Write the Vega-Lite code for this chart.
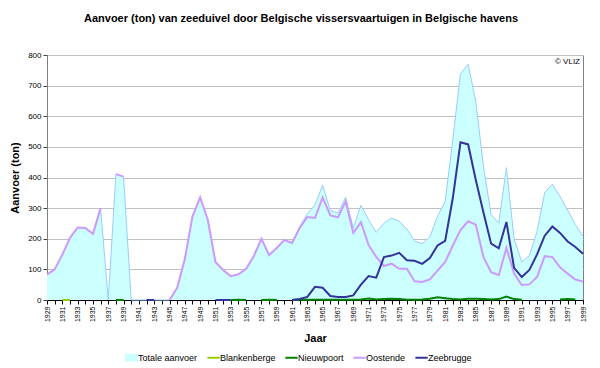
{
  "$schema": "https://vega.github.io/schema/vega-lite/v6.json",
  "autosize": {"type": "none"},
  "width": 536,
  "height": 245,
  "padding": {"left": 47, "top": 55, "right": 17, "bottom": 68},
  "background": "white",
  "title": {
    "text": "Aanvoer (ton) van zeeduivel door Belgische vissersvaartuigen in Belgische havens",
    "font": "Liberation Sans",
    "fontSize": 11,
    "fontWeight": "bold",
    "color": "#000000",
    "anchor": "middle",
    "frame": "group",
    "dx": -14,
    "baseline": "alphabetic",
    "offset": 18
  },
  "config": {
    "view": {"stroke": "#808080", "strokeWidth": 1, "fill": "white"},
    "axis": {"labelFont": "Liberation Sans", "titleFont": "Liberation Sans", "labelColor": "#000000", "titleColor": "#000000"},
    "axisY": {"tickCount": 9}
  },
  "data": {
    "values": [
      {"Jaar": 1929, "Totale aanvoer": 83, "Blankenberge": null, "Nieuwpoort": null, "Oostende": 83, "Zeebrugge": null},
      {"Jaar": 1930, "Totale aanvoer": 100, "Blankenberge": null, "Nieuwpoort": null, "Oostende": 100, "Zeebrugge": null},
      {"Jaar": 1931, "Totale aanvoer": 148, "Blankenberge": 0, "Nieuwpoort": null, "Oostende": 148, "Zeebrugge": null},
      {"Jaar": 1932, "Totale aanvoer": 203, "Blankenberge": 0, "Nieuwpoort": null, "Oostende": 203, "Zeebrugge": null},
      {"Jaar": 1933, "Totale aanvoer": 237, "Blankenberge": null, "Nieuwpoort": null, "Oostende": 237, "Zeebrugge": null},
      {"Jaar": 1934, "Totale aanvoer": 235, "Blankenberge": null, "Nieuwpoort": null, "Oostende": 235, "Zeebrugge": null},
      {"Jaar": 1935, "Totale aanvoer": 216, "Blankenberge": null, "Nieuwpoort": null, "Oostende": 216, "Zeebrugge": null},
      {"Jaar": 1936, "Totale aanvoer": 300, "Blankenberge": null, "Nieuwpoort": null, "Oostende": 300, "Zeebrugge": null},
      {"Jaar": 1937, "Totale aanvoer": 0, "Blankenberge": null, "Nieuwpoort": null, "Oostende": null, "Zeebrugge": null},
      {"Jaar": 1938, "Totale aanvoer": 411, "Blankenberge": null, "Nieuwpoort": 0, "Oostende": 411, "Zeebrugge": null},
      {"Jaar": 1939, "Totale aanvoer": 403, "Blankenberge": null, "Nieuwpoort": 0, "Oostende": 403, "Zeebrugge": null},
      {"Jaar": 1940, "Totale aanvoer": 0, "Blankenberge": null, "Nieuwpoort": null, "Oostende": null, "Zeebrugge": null},
      {"Jaar": 1941, "Totale aanvoer": 0, "Blankenberge": null, "Nieuwpoort": null, "Oostende": null, "Zeebrugge": null},
      {"Jaar": 1942, "Totale aanvoer": 0, "Blankenberge": null, "Nieuwpoort": null, "Oostende": null, "Zeebrugge": 0},
      {"Jaar": 1943, "Totale aanvoer": 0, "Blankenberge": null, "Nieuwpoort": null, "Oostende": null, "Zeebrugge": 0},
      {"Jaar": 1944, "Totale aanvoer": 0, "Blankenberge": null, "Nieuwpoort": null, "Oostende": null, "Zeebrugge": null},
      {"Jaar": 1945, "Totale aanvoer": 0, "Blankenberge": null, "Nieuwpoort": null, "Oostende": 0, "Zeebrugge": null},
      {"Jaar": 1946, "Totale aanvoer": 40, "Blankenberge": null, "Nieuwpoort": null, "Oostende": 40, "Zeebrugge": null},
      {"Jaar": 1947, "Totale aanvoer": 134, "Blankenberge": null, "Nieuwpoort": null, "Oostende": 134, "Zeebrugge": null},
      {"Jaar": 1948, "Totale aanvoer": 273, "Blankenberge": null, "Nieuwpoort": null, "Oostende": 273, "Zeebrugge": null},
      {"Jaar": 1949, "Totale aanvoer": 335, "Blankenberge": null, "Nieuwpoort": null, "Oostende": 335, "Zeebrugge": null},
      {"Jaar": 1950, "Totale aanvoer": 262, "Blankenberge": null, "Nieuwpoort": null, "Oostende": 262, "Zeebrugge": null},
      {"Jaar": 1951, "Totale aanvoer": 124, "Blankenberge": null, "Nieuwpoort": null, "Oostende": 124, "Zeebrugge": 0},
      {"Jaar": 1952, "Totale aanvoer": 98, "Blankenberge": null, "Nieuwpoort": null, "Oostende": 98, "Zeebrugge": 0},
      {"Jaar": 1953, "Totale aanvoer": 78, "Blankenberge": null, "Nieuwpoort": 0, "Oostende": 78, "Zeebrugge": 0},
      {"Jaar": 1954, "Totale aanvoer": 85, "Blankenberge": null, "Nieuwpoort": 1, "Oostende": 84, "Zeebrugge": null},
      {"Jaar": 1955, "Totale aanvoer": 102, "Blankenberge": null, "Nieuwpoort": 0, "Oostende": 102, "Zeebrugge": null},
      {"Jaar": 1956, "Totale aanvoer": 143, "Blankenberge": null, "Nieuwpoort": null, "Oostende": 143, "Zeebrugge": null},
      {"Jaar": 1957, "Totale aanvoer": 200, "Blankenberge": null, "Nieuwpoort": 0, "Oostende": 200, "Zeebrugge": null},
      {"Jaar": 1958, "Totale aanvoer": 148, "Blankenberge": null, "Nieuwpoort": 1, "Oostende": 147, "Zeebrugge": null},
      {"Jaar": 1959, "Totale aanvoer": 170, "Blankenberge": null, "Nieuwpoort": 0, "Oostende": 170, "Zeebrugge": null},
      {"Jaar": 1960, "Totale aanvoer": 196, "Blankenberge": null, "Nieuwpoort": null, "Oostende": 196, "Zeebrugge": null},
      {"Jaar": 1961, "Totale aanvoer": 186, "Blankenberge": null, "Nieuwpoort": 0, "Oostende": 186, "Zeebrugge": 0},
      {"Jaar": 1962, "Totale aanvoer": 240, "Blankenberge": null, "Nieuwpoort": 1, "Oostende": 235, "Zeebrugge": 3},
      {"Jaar": 1963, "Totale aanvoer": 281, "Blankenberge": null, "Nieuwpoort": 1, "Oostende": 271, "Zeebrugge": 10},
      {"Jaar": 1964, "Totale aanvoer": 311, "Blankenberge": null, "Nieuwpoort": 1, "Oostende": 268, "Zeebrugge": 43},
      {"Jaar": 1965, "Totale aanvoer": 375, "Blankenberge": null, "Nieuwpoort": 1, "Oostende": 335, "Zeebrugge": 40},
      {"Jaar": 1966, "Totale aanvoer": 292, "Blankenberge": null, "Nieuwpoort": 1, "Oostende": 276, "Zeebrugge": 13},
      {"Jaar": 1967, "Totale aanvoer": 284, "Blankenberge": null, "Nieuwpoort": 1, "Oostende": 270, "Zeebrugge": 10},
      {"Jaar": 1968, "Totale aanvoer": 335, "Blankenberge": null, "Nieuwpoort": 1, "Oostende": 322, "Zeebrugge": 10},
      {"Jaar": 1969, "Totale aanvoer": 235, "Blankenberge": null, "Nieuwpoort": 1, "Oostende": 219, "Zeebrugge": 15},
      {"Jaar": 1970, "Totale aanvoer": 309, "Blankenberge": null, "Nieuwpoort": 2, "Oostende": 254, "Zeebrugge": 50},
      {"Jaar": 1971, "Totale aanvoer": 262, "Blankenberge": null, "Nieuwpoort": 5, "Oostende": 179, "Zeebrugge": 78},
      {"Jaar": 1972, "Totale aanvoer": 221, "Blankenberge": null, "Nieuwpoort": 2, "Oostende": 141, "Zeebrugge": 73},
      {"Jaar": 1973, "Totale aanvoer": 251, "Blankenberge": null, "Nieuwpoort": 3, "Oostende": 111, "Zeebrugge": 140},
      {"Jaar": 1974, "Totale aanvoer": 268, "Blankenberge": null, "Nieuwpoort": 4, "Oostende": 119, "Zeebrugge": 145},
      {"Jaar": 1975, "Totale aanvoer": 257, "Blankenberge": null, "Nieuwpoort": 3, "Oostende": 102, "Zeebrugge": 154},
      {"Jaar": 1976, "Totale aanvoer": 232, "Blankenberge": null, "Nieuwpoort": 1, "Oostende": 102, "Zeebrugge": 130},
      {"Jaar": 1977, "Totale aanvoer": 192, "Blankenberge": null, "Nieuwpoort": 1, "Oostende": 61, "Zeebrugge": 128},
      {"Jaar": 1978, "Totale aanvoer": 184, "Blankenberge": null, "Nieuwpoort": 2, "Oostende": 59, "Zeebrugge": 118},
      {"Jaar": 1979, "Totale aanvoer": 206, "Blankenberge": null, "Nieuwpoort": 4, "Oostende": 67, "Zeebrugge": 137},
      {"Jaar": 1980, "Totale aanvoer": 273, "Blankenberge": null, "Nieuwpoort": 9, "Oostende": 96, "Zeebrugge": 178},
      {"Jaar": 1981, "Totale aanvoer": 322, "Blankenberge": null, "Nieuwpoort": 6, "Oostende": 124, "Zeebrugge": 193},
      {"Jaar": 1982, "Totale aanvoer": 525, "Blankenberge": null, "Nieuwpoort": 3, "Oostende": 178, "Zeebrugge": 333},
      {"Jaar": 1983, "Totale aanvoer": 739, "Blankenberge": null, "Nieuwpoort": 2, "Oostende": 228, "Zeebrugge": 515},
      {"Jaar": 1984, "Totale aanvoer": 770, "Blankenberge": null, "Nieuwpoort": 4, "Oostende": 257, "Zeebrugge": 508},
      {"Jaar": 1985, "Totale aanvoer": 647, "Blankenberge": null, "Nieuwpoort": 4, "Oostende": 246, "Zeebrugge": 392},
      {"Jaar": 1986, "Totale aanvoer": 436, "Blankenberge": null, "Nieuwpoort": 3, "Oostende": 140, "Zeebrugge": 286},
      {"Jaar": 1987, "Totale aanvoer": 279, "Blankenberge": null, "Nieuwpoort": 2, "Oostende": 91, "Zeebrugge": 184},
      {"Jaar": 1988, "Totale aanvoer": 251, "Blankenberge": null, "Nieuwpoort": 3, "Oostende": 81, "Zeebrugge": 169},
      {"Jaar": 1989, "Totale aanvoer": 432, "Blankenberge": null, "Nieuwpoort": 11, "Oostende": 170, "Zeebrugge": 255},
      {"Jaar": 1990, "Totale aanvoer": 199, "Blankenberge": null, "Nieuwpoort": 3, "Oostende": 86, "Zeebrugge": 105},
      {"Jaar": 1991, "Totale aanvoer": 124, "Blankenberge": null, "Nieuwpoort": 1, "Oostende": 49, "Zeebrugge": 75},
      {"Jaar": 1992, "Totale aanvoer": 145, "Blankenberge": null, "Nieuwpoort": null, "Oostende": 51, "Zeebrugge": 98},
      {"Jaar": 1993, "Totale aanvoer": 224, "Blankenberge": null, "Nieuwpoort": null, "Oostende": 75, "Zeebrugge": 149},
      {"Jaar": 1994, "Totale aanvoer": 351, "Blankenberge": null, "Nieuwpoort": null, "Oostende": 143, "Zeebrugge": 210},
      {"Jaar": 1995, "Totale aanvoer": 378, "Blankenberge": null, "Nieuwpoort": null, "Oostende": 140, "Zeebrugge": 240},
      {"Jaar": 1996, "Totale aanvoer": 338, "Blankenberge": null, "Nieuwpoort": 2, "Oostende": 107, "Zeebrugge": 219},
      {"Jaar": 1997, "Totale aanvoer": 293, "Blankenberge": null, "Nieuwpoort": 3, "Oostende": 86, "Zeebrugge": 191},
      {"Jaar": 1998, "Totale aanvoer": 246, "Blankenberge": null, "Nieuwpoort": 2, "Oostende": 67, "Zeebrugge": 173},
      {"Jaar": 1999, "Totale aanvoer": 208, "Blankenberge": null, "Nieuwpoort": null, "Oostende": 60, "Zeebrugge": 151}
    ]
  },
  "encoding": {
    "x": {
      "field": "Jaar",
      "type": "quantitative",
      "title": "Jaar",
      "scale": {"domain": [1929, 1999], "nice": false, "zero": false},
      "axis": {
        "values": [1929,1930,1931,1932,1933,1934,1935,1936,1937,1938,1939,1940,1941,1942,1943,1944,1945,1946,1947,1948,1949,1950,1951,1952,1953,1954,1955,1956,1957,1958,1959,1960,1961,1962,1963,1964,1965,1966,1967,1968,1969,1970,1971,1972,1973,1974,1975,1976,1977,1978,1979,1980,1981,1982,1983,1984,1985,1986,1987,1988,1989,1990,1991,1992,1993,1994,1995,1996,1997,1998,1999],
        "labelExpr": "datum.value % 2 == 1 ? '' + datum.value : ''",
        "labelAngle": -90,
        "labelFontSize": 7,
        "labelOverlap": false,
        "labelPadding": 2,
        "tickSize": 4,
        "tickColor": "#000000",
        "domainColor": "#000000",
        "grid": false,
        "titleFontSize": 11,
        "titleFontWeight": "bold",
        "titlePadding": 11
      }
    }
  },
  "layer": [
    {
      "mark": {"type": "area", "invalid": "break-paths-filter-domains", "fill": "#ccffff"},
      "encoding": {
        "y": {
          "field": "Totale aanvoer",
          "type": "quantitative",
          "title": "Aanvoer (ton)",
          "scale": {"domain": [0, 800], "nice": false},
          "axis": {"values": [0, 100, 200, 300, 400, 500, 600, 700, 800], "labelFontSize": 8, "labelPadding": 2, "tickSize": 4, "tickColor": "#404040", "domainColor": "#808080", "grid": true, "gridColor": "#c0c0c0", "gridWidth": 1, "titleFontSize": 11, "titleFontWeight": "bold", "titlePadding": 7}
        },
        "color": {
          "datum": "Totale aanvoer",
          "scale": {
            "domain": ["Totale aanvoer", "Blankenberge", "Nieuwpoort", "Oostende", "Zeebrugge"],
            "range": ["#ccffff", "#99cc00", "#008000", "#cc99ff", "#333399"]
          },
          "legend": {
            "title": null,
            "orient": "none",
            "direction": "horizontal",
            "legendX": 80,
            "legendY": 298,
            "columnPadding": 5,
            "labelFont": "Liberation Sans",
            "labelFontSize": 9,
            "labelColor": "#000000",
            "labelOffset": 2,
            "symbolSize": 150,
            "symbolStrokeWidth": 2,
            "encode": {
              "symbols": {
                "update": {
                  "shape": {"signal": "datum.value === 'Totale aanvoer' ? 'M-1,-0.55H1V0.55H-1Z' : 'stroke'"},
                  "fill": {"signal": "datum.value === 'Totale aanvoer' ? '#ccffff' : 'transparent'"},
                  "stroke": {"signal": "datum.value === 'Totale aanvoer' ? '#99ccff' : scale('color', datum.value)"},
                  "strokeWidth": {"signal": "datum.value === 'Totale aanvoer' ? 1 : 2"}
                }
              }
            }
          }
        }
      }
    },
    {
      "mark": {"type": "line", "invalid": "break-paths-filter-domains", "stroke": "#99ccff", "strokeWidth": 1},
      "encoding": {
        "y": {"field": "Totale aanvoer", "type": "quantitative", "title": "Aanvoer (ton)",
          "axis": {"values": [0, 100, 200, 300, 400, 500, 600, 700, 800], "labelFontSize": 8, "labelPadding": 2, "tickSize": 4, "tickColor": "#404040", "domainColor": "#808080", "grid": true, "gridColor": "#c0c0c0", "gridWidth": 1, "titleFontSize": 11, "titleFontWeight": "bold", "titlePadding": 7}}
      }
    },
    {
      "mark": {"type": "line", "invalid": "break-paths-filter-domains", "strokeWidth": 2},
      "encoding": {
        "y": {"field": "Blankenberge", "type": "quantitative", "title": "Aanvoer (ton)",
          "axis": {"values": [0, 100, 200, 300, 400, 500, 600, 700, 800], "labelFontSize": 8, "labelPadding": 2, "tickSize": 4, "tickColor": "#404040", "domainColor": "#808080", "grid": true, "gridColor": "#c0c0c0", "gridWidth": 1, "titleFontSize": 11, "titleFontWeight": "bold", "titlePadding": 7}},
        "color": {"datum": "Blankenberge"}
      }
    },
    {
      "mark": {"type": "line", "invalid": "break-paths-filter-domains", "strokeWidth": 2},
      "encoding": {
        "y": {"field": "Nieuwpoort", "type": "quantitative", "title": "Aanvoer (ton)",
          "axis": {"values": [0, 100, 200, 300, 400, 500, 600, 700, 800], "labelFontSize": 8, "labelPadding": 2, "tickSize": 4, "tickColor": "#404040", "domainColor": "#808080", "grid": true, "gridColor": "#c0c0c0", "gridWidth": 1, "titleFontSize": 11, "titleFontWeight": "bold", "titlePadding": 7}},
        "color": {"datum": "Nieuwpoort"}
      }
    },
    {
      "mark": {"type": "line", "invalid": "break-paths-filter-domains", "strokeWidth": 2},
      "encoding": {
        "y": {"field": "Oostende", "type": "quantitative", "title": "Aanvoer (ton)",
          "axis": {"values": [0, 100, 200, 300, 400, 500, 600, 700, 800], "labelFontSize": 8, "labelPadding": 2, "tickSize": 4, "tickColor": "#404040", "domainColor": "#808080", "grid": true, "gridColor": "#c0c0c0", "gridWidth": 1, "titleFontSize": 11, "titleFontWeight": "bold", "titlePadding": 7}},
        "color": {"datum": "Oostende"}
      }
    },
    {
      "mark": {"type": "line", "invalid": "break-paths-filter-domains", "strokeWidth": 2},
      "encoding": {
        "y": {"field": "Zeebrugge", "type": "quantitative", "title": "Aanvoer (ton)",
          "axis": {"values": [0, 100, 200, 300, 400, 500, 600, 700, 800], "labelFontSize": 8, "labelPadding": 2, "tickSize": 4, "tickColor": "#404040", "domainColor": "#808080", "grid": true, "gridColor": "#c0c0c0", "gridWidth": 1, "titleFontSize": 11, "titleFontWeight": "bold", "titlePadding": 7}},
        "color": {"datum": "Zeebrugge"}
      }
    },
    {
      "data": {"values": [{"Jaar": 1999, "Hoogte": 800, "Tekst": "© VLIZ"}]},
      "mark": {"type": "text", "align": "right", "baseline": "top", "dx": -3, "dy": 3, "font": "Liberation Sans", "fontSize": 8, "color": "#000000"},
      "encoding": {
        "y": {"field": "Hoogte", "type": "quantitative", "title": "Aanvoer (ton)",
          "axis": {"values": [0, 100, 200, 300, 400, 500, 600, 700, 800], "labelFontSize": 8, "labelPadding": 2, "tickSize": 4, "tickColor": "#404040", "domainColor": "#808080", "grid": true, "gridColor": "#c0c0c0", "gridWidth": 1, "titleFontSize": 11, "titleFontWeight": "bold", "titlePadding": 7}},
        "text": {"field": "Tekst"}
      }
    }
  ]
}
